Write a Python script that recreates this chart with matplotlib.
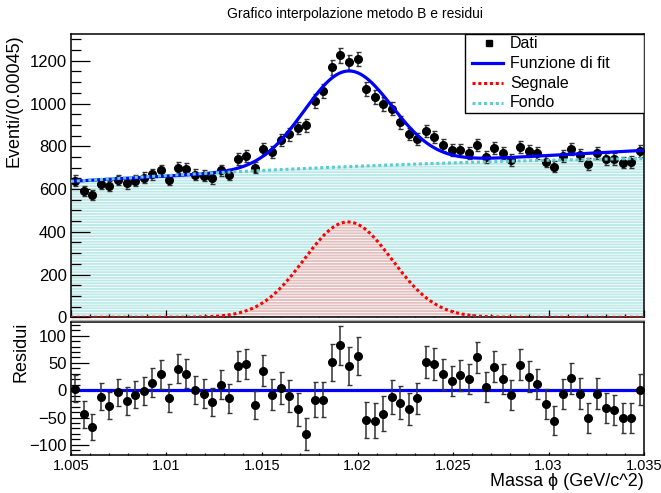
import numpy as np
import matplotlib.pyplot as plt
from matplotlib.ticker import MultipleLocator
from matplotlib.patches import Rectangle
from matplotlib.lines import Line2D

plt.rcParams['font.family'] = ['Liberation Sans', 'DejaVu Sans']
plt.rcParams['hatch.linewidth'] = 0.6

# binning dell'istogramma
x_min, x_max = 1.005, 1.035
n_bins = 67

# conteggi per bin
counts = [639, 592, 572, 623, 614, 642, 626, 639, 653, 670,
          687, 642, 700, 695, 667, 661, 650, 687, 667, 740,
          756, 700, 788, 774, 829, 856, 885, 898, 1013, 1060,
          1169, 1225, 1193, 1208, 1068, 1029, 997, 976, 913, 857,
          835, 871, 842, 804, 782, 782, 767, 806, 751, 790,
          767, 736, 798, 779, 767, 728, 704, 754, 787, 759,
          717, 767, 739, 739, 723, 726, 779]

# residui (dati - fit)
residui = [3, -44, -67, -12, -28, -4, -20, -8, -1, 14,
           29, -14, 39, 30, 1, -6, -22, 10, -15, 44,
           48, -27, 36, -8, 4, -10, -35, -80, -17, -17,
           51, 82, 44, 62, -55, -56, -43, -13, -23, -35,
           -15, 52, 48, 29, 17, 27, 20, 60, 6, 43,
           21, -9, 47, 25, 11, -25, -56, -6, 22, -6,
           -51, -6, -33, -36, -51, -51, 1]

# parametri del fit
mu, sigma, n_sig = 1.0195, 0.0023, 446.0
fit_p0, fit_p1 = 636.0, 4833.0
bkg_c0, bkg_c1, bkg_c2 = 636.0, 5836.0, -75660.0

edges = np.linspace(x_min, x_max, n_bins + 1)
centers = 0.5 * (edges[:-1] + edges[1:])
counts = np.array(counts, dtype=float)
residui = np.array(residui, dtype=float)
err = np.sqrt(counts)


def segnale(x):
    return n_sig * np.exp(-0.5 * ((x - mu) / sigma) ** 2)


def fondo(x):
    u = x - x_min
    return bkg_c0 + bkg_c1 * u + bkg_c2 * u ** 2


def funzione_fit(x):
    return fit_p0 + fit_p1 * (x - x_min) + segnale(x)


xs = np.linspace(x_min, x_max, 800)

fig = plt.figure(figsize=(6.61, 4.93), dpi=100)
ax = fig.add_axes([0.1074, 0.3564, 0.8669, 0.5746])
ax2 = fig.add_axes([0.1074, 0.0761, 0.8669, 0.2708])

cyan = '#5ccccc'
dots = (0, (1.0, 0.9))

# pannello superiore
ax.fill_between(xs, 0, fondo(xs), facecolor='#bde9e9', edgecolor='white',
                hatch='------', lw=0, zorder=1)
ax.fill_between(xs, 0, segnale(xs), facecolor='#e2c0c0', edgecolor='white',
                hatch='------', lw=0, zorder=2)
ax.errorbar(centers, counts, yerr=err, fmt='o', color='black', ms=5.5,
            ecolor='#333333', elinewidth=1.1, capsize=1.8, capthick=1.0, zorder=4)
ax.plot(xs, funzione_fit(xs), color='#0000ff', lw=2.3, zorder=5)
ax.plot(xs, segnale(xs), color='#ff0000', lw=2.2, ls=dots, zorder=5)
ax.plot(xs, fondo(xs), color=cyan, lw=2.2, ls=dots, zorder=5)

ax.set_xlim(x_min, x_max)
ax.set_ylim(0, 1325)
ax.xaxis.set_major_locator(MultipleLocator(0.005))
ax.xaxis.set_minor_locator(MultipleLocator(0.001))
ax.yaxis.set_major_locator(MultipleLocator(200))
ax.yaxis.set_minor_locator(MultipleLocator(50))
ax.tick_params(which='both', direction='in', top=False, right=False,
               labelbottom=False, labelsize=12, width=0.9, pad=3)
ax.tick_params(axis='y', which='major', length=14)
ax.tick_params(axis='y', which='minor', length=7)
ax.tick_params(axis='x', which='major', length=5.3)
ax.tick_params(axis='x', which='minor', length=2.2)
ax.set_ylabel('Eventi/(0.00045)', fontsize=13, loc='top')
ax.yaxis.set_label_coords(-0.084, 1.0)

# legenda
lx0, lx1, ltx = 0.6998, 0.754, 0.766
ax.add_patch(Rectangle((0.6876, 0.7201), 0.3124, 0.2799, transform=ax.transAxes,
                       facecolor='white', edgecolor='black', lw=1.0, zorder=10))
voci = ['Dati', 'Funzione di fit', 'Segnale', 'Fondo']
righe = [0.967, 0.8976, 0.827, 0.7575]
ax.plot([0.7295], [righe[0]], marker='s', ms=5, color='black',
        transform=ax.transAxes, zorder=11)
ax.plot([lx0, lx1], [righe[1]] * 2, color='#0000ff', lw=2.3,
        transform=ax.transAxes, zorder=11)
ax.plot([lx0, lx1], [righe[2]] * 2, color='#ff0000', lw=2.2, ls=dots,
        transform=ax.transAxes, zorder=11)
ax.plot([lx0, lx1], [righe[3]] * 2, color=cyan, lw=2.2, ls=dots,
        transform=ax.transAxes, zorder=11)
for testo, y in zip(voci, righe):
    ax.text(ltx, y, testo, transform=ax.transAxes, fontsize=11.5,
            ha='left', va='center', zorder=11)

# pannello dei residui
ax2.errorbar(centers, residui, yerr=err, fmt='o', color='black', ms=5.5,
             ecolor='#333333', elinewidth=1.1, capsize=1.8, capthick=1.0, zorder=4)
ax2.axhline(0, color='#0000ff', lw=2.3, zorder=3)
ax2.set_xlim(x_min, x_max)
ax2.set_ylim(-119.5, 125)
ax2.xaxis.set_major_locator(MultipleLocator(0.005))
ax2.xaxis.set_minor_locator(MultipleLocator(0.001))
ax2.yaxis.set_major_locator(MultipleLocator(50))
ax2.yaxis.set_minor_locator(MultipleLocator(10))
ax2.tick_params(which='both', direction='in', top=False, right=False,
                labelsize=12, width=0.9, pad=3)
ax2.tick_params(axis='x', labelsize=10.5, pad=2.5)
ax2.tick_params(axis='y', which='major', length=13)
ax2.tick_params(axis='y', which='minor', length=6.5)
ax2.tick_params(axis='x', which='major', length=2.5)
ax2.tick_params(axis='x', which='minor', length=1.2)
ax2.xaxis.set_major_formatter(plt.FuncFormatter(lambda v, p: f'{v:g}'))
ax2.set_ylabel('Residui', fontsize=13, loc='top')
ax2.yaxis.set_label_coords(-0.072, 1.0)
ax2.set_xlabel('Massa \u03d5 (GeV/c^2)', fontsize=13, loc='right')
ax2.xaxis.set_label_coords(1.0, -0.13)

for a in (ax, ax2):
    for s in a.spines.values():
        s.set_linewidth(1.1)

fig.add_artist(Line2D([0.1074, 0.9743], [0.3499, 0.3499], color='#b0b0b0', lw=1.0))

fig.text(0.537, 1 - 14 / 493, 'Grafico interpolazione metodo B e residui',
         ha='center', va='center', fontsize=10)

fig.savefig('out.png', dpi=100, facecolor='white')
